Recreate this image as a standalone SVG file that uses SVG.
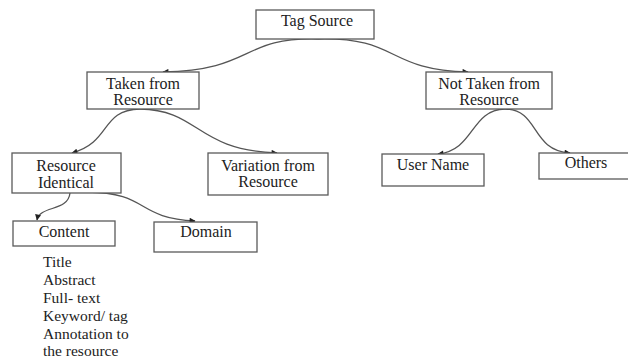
<svg xmlns="http://www.w3.org/2000/svg" width="628" height="360" viewBox="0 0 628 360">
<style>
.box{fill:#fff;stroke:#5a5a5a;stroke-width:1.3}
.t{font-family:'Liberation Serif','DejaVu Serif','Times New Roman',serif;font-size:16px;fill:#222;text-anchor:middle}
.l{font-family:'Liberation Serif','DejaVu Serif','Times New Roman',serif;font-size:15.5px;fill:#222}
.c{fill:none;stroke:#555;stroke-width:1.3}
</style>
<defs>
<marker id="ah" viewBox="0 0 10 10" refX="9" refY="5" markerWidth="7" markerHeight="6" markerUnits="userSpaceOnUse" orient="auto">
<path d="M0,0 L10,5 L0,10 z" fill="#222"/>
</marker>
</defs>
<rect width="628" height="360" fill="#fff"/>
<g id="connectors">
<path class="c" d="M318,39 C240,37 255,70 163,72" marker-end="url(#ah)"/>
<path class="c" d="M318,39 C400,37 385,70 468,72" marker-end="url(#ah)"/>
<path class="c" d="M140,109 C100,110 112,142 72,153" marker-end="url(#ah)"/>
<path class="c" d="M140,109 C200,110 195,150 277,153" marker-end="url(#ah)"/>
<path class="c" d="M505,109 C470,110 475,150 438,154" marker-end="url(#ah)"/>
<path class="c" d="M505,109 C540,110 530,150 570,153" marker-end="url(#ah)"/>
<path class="c" d="M70,193 C68,212 40,205 37,220" marker-end="url(#ah)"/>
<path class="c" d="M87,192 C150,193 135,218 195,221" marker-end="url(#ah)"/>
</g>
<g id="tag-source"><rect class="box" x="256" y="10" width="118" height="29"/><text class="t" x="317" y="26">Tag Source</text></g>
<g id="taken"><rect class="box" x="87" y="72" width="112" height="37"/><text class="t" x="143" y="89">Taken from</text><text class="t" x="143" y="105">Resource</text></g>
<g id="not-taken"><rect class="box" x="426" y="72" width="126" height="37"/><text class="t" x="489" y="89">Not Taken from</text><text class="t" x="489" y="105">Resource</text></g>
<g id="resource-identical"><rect class="box" x="12" y="153" width="109" height="40"/><text class="t" x="66" y="171">Resource</text><text class="t" x="66" y="188">Identical</text></g>
<g id="variation"><rect class="box" x="208" y="153" width="120" height="42"/><text class="t" x="268" y="171">Variation from</text><text class="t" x="268" y="187">Resource</text></g>
<g id="user-name"><rect class="box" x="382" y="154" width="102" height="32"/><text class="t" x="433" y="170">User Name</text></g>
<g id="others"><rect class="box" x="539" y="153" width="92" height="26"/><text class="t" x="586" y="168">Others</text></g>
<g id="content"><rect class="box" x="13" y="221" width="102" height="25"/><text class="t" x="64" y="237">Content</text></g>
<g id="domain"><rect class="box" x="154" y="222" width="103" height="30"/><text class="t" x="206" y="237">Domain</text></g>
<g id="content-list">
<text class="l" x="43" y="267">Title</text>
<text class="l" x="43" y="285">Abstract</text>
<text class="l" x="43" y="303">Full- text</text>
<text class="l" x="43" y="321">Keyword/ tag</text>
<text class="l" x="43" y="339">Annotation to</text>
<text class="l" x="43" y="356">the resource</text>
</g>
</svg>
